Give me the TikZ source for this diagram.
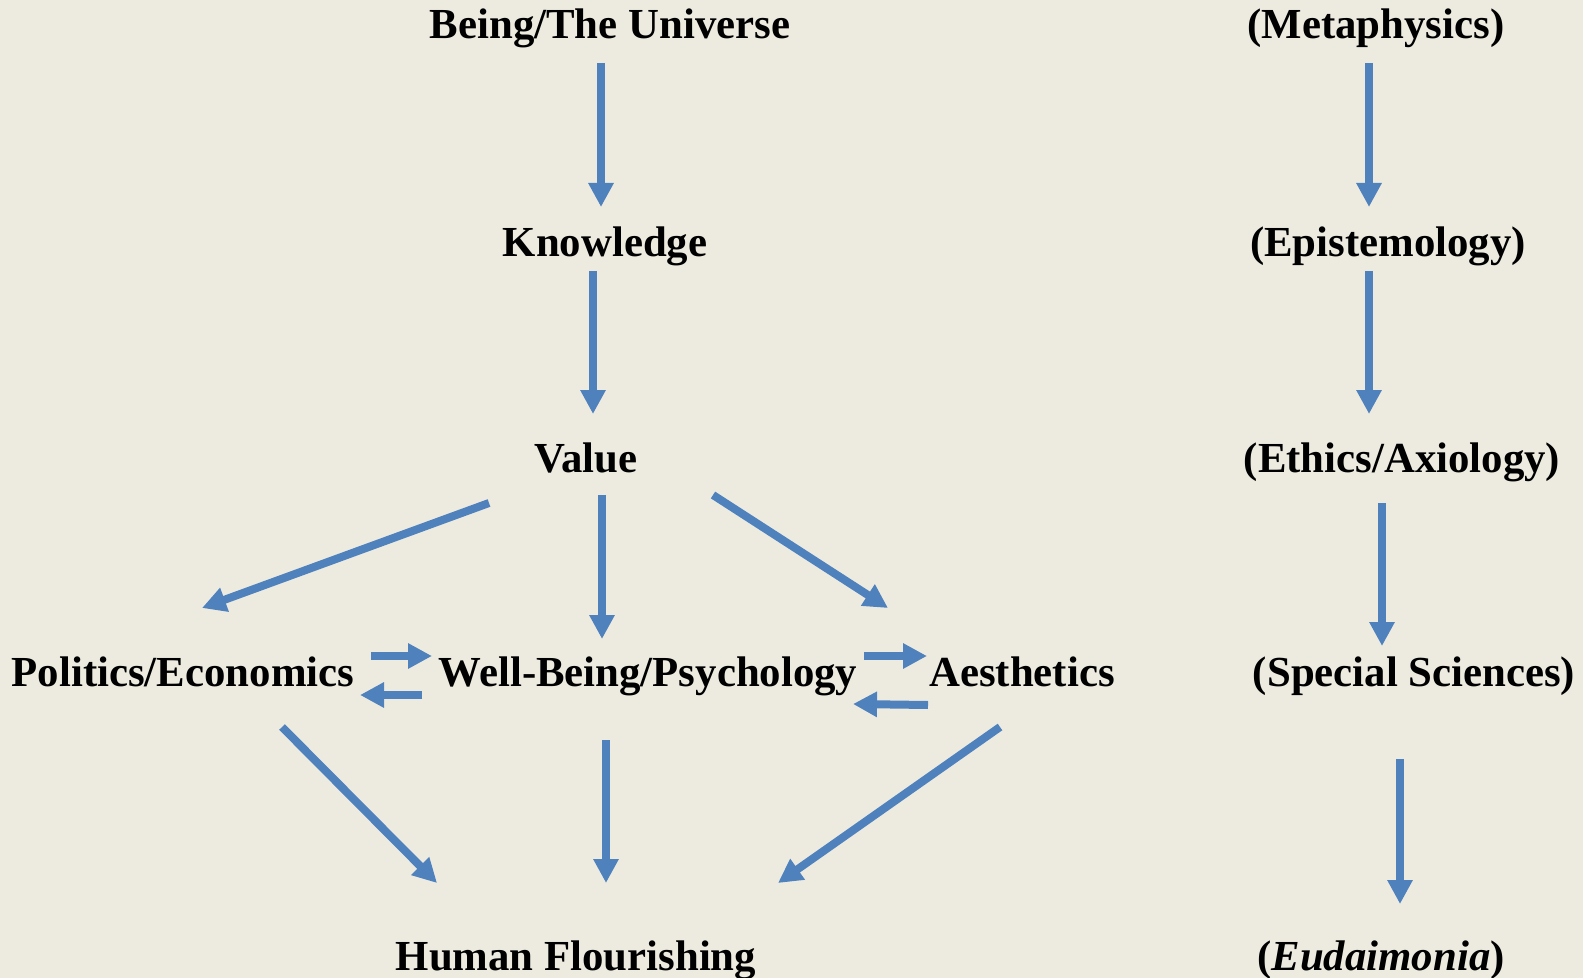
\documentclass[tikz,border=0pt]{standalone}
\usepackage{fontspec}
\setmainfont{Liberation Serif}
\usetikzlibrary{arrows.meta,calc,positioning}
\definecolor{bgpaper}{RGB}{237,235,224}
\definecolor{arrblue}{RGB}{79,129,189}
\begin{document}
\begin{tikzpicture}[x=0.5pt,y=-0.5pt]
\fontsize{21.4}{25}\selectfont\bfseries
\tikzstyle{lbl} = [anchor=base, inner sep=0pt]
\tikzstyle{barrow} = [draw=arrblue, line width=4pt, -{Triangle[width=12pt,length=12pt]}]
\fill[bgpaper] (0,0) rectangle (1583,978);
\useasboundingbox (0,0) rectangle (1583,978);
\path
(610,39) node [lbl] (being) {Being/The Universe}
(605,257) node [lbl] (know) {Knowledge}
(586,472) node [lbl] (value) {Value}
(183,686) node [lbl] (pol) {Politics/Economics}
(648,686) node [lbl] (wb) {Well-Being/Psychology}
(1022,686) node [lbl] (aes) {Aesthetics}
(576,970) node [lbl] (hf) {Human Flourishing}
(1376,39) node [lbl] (meta) {(Metaphysics)}
(1388,257) node [lbl] (epi) {(Epistemology)}
(1402,472) node [lbl] (eth) {(Ethics/Axiology)}
(1414,686) node [lbl] (spec) {(Special Sciences)}
(1381,970) node [lbl] (eud) {(\textit{Eudaimonia})};
% left column
\draw[barrow] ($(being.base)+(-9,24)$) -- ($(know.base)+(-4,-50)$);
\draw[barrow] ($(know.base)+(-12,14)$) -- ($(value.base)+(7,-58)$);
\draw[barrow] ($(value.base)+(-97,31)$) -- ($(pol.base)+(19,-78)$);
\draw[barrow] ($(value.base)+(16,23)$) -- ($(wb.base)+(-46,-47)$);
\draw[barrow] ($(value.base)+(127,23)$) -- ($(aes.base)+(-134,-78)$);
\draw[barrow] ($(pol.base)+(188,-30)$) -- ($(wb.base)+(-216,-30)$);
\draw[barrow] ($(wb.base)+(-226,9)$) -- ($(pol.base)+(177,9)$);
\draw[barrow] ($(wb.base)+(216,-30)$) -- ($(aes.base)+(-95,-30)$);
\draw[barrow] ($(aes.base)+(-94,19)$) -- ($(wb.base)+(205,18)$);
\draw[barrow] ($(pol.base)+(99,41)$) -- ($(hf.base)+(-139,-87)$);
\draw[barrow] ($(wb.base)+(-42,54)$) -- ($(hf.base)+(30,-87)$);
\draw[barrow] ($(aes.base)+(-22,41)$) -- ($(hf.base)+(202,-87)$);
% right column
\draw[barrow] ($(meta.base)+(-7,24)$) -- ($(epi.base)+(-19,-50)$);
\draw[barrow] ($(epi.base)+(-19,14)$) -- ($(eth.base)+(-33,-58)$);
\draw[barrow] ($(eth.base)+(-20,31)$) -- ($(spec.base)+(-32,-40)$);
\draw[barrow] ($(spec.base)+(-14,73)$) -- ($(eud.base)+(19,-66)$);
\end{tikzpicture}
\end{document}
